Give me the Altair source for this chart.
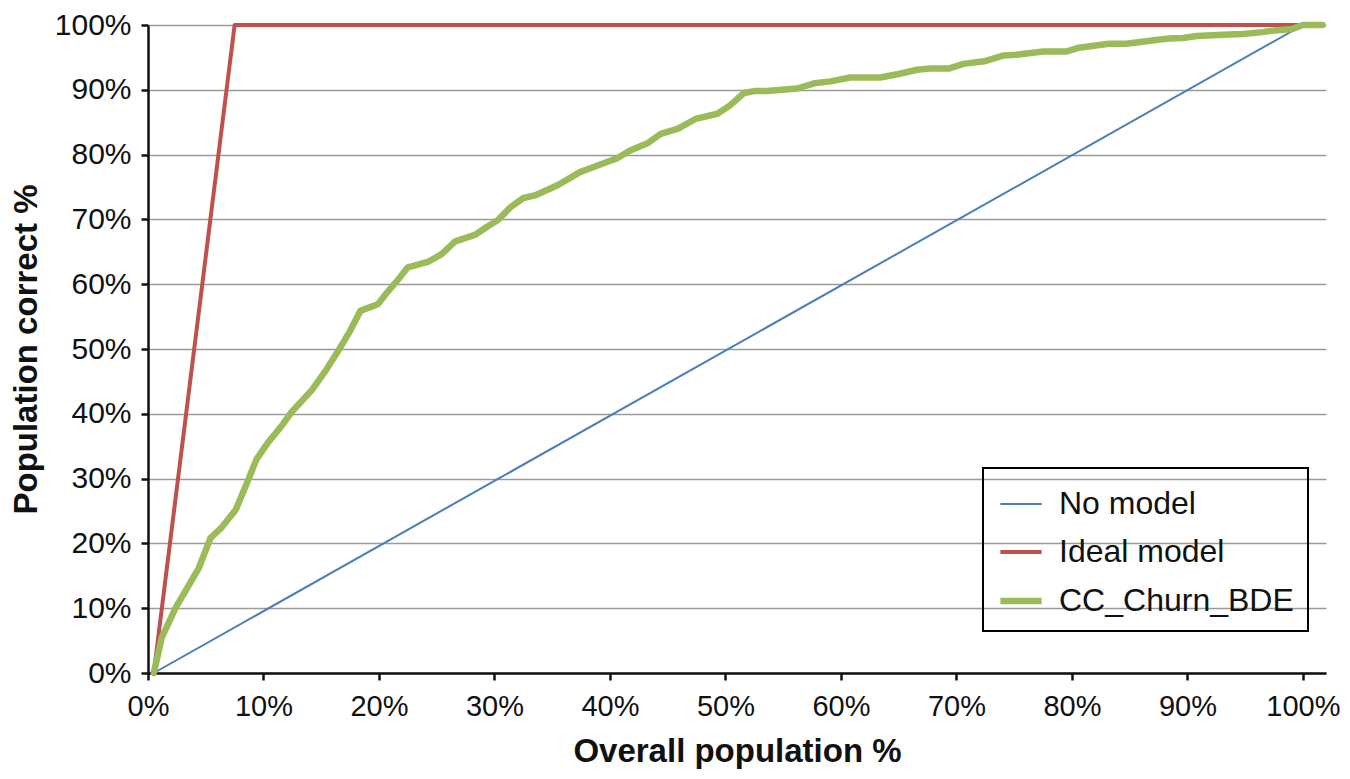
import altair as alt
import pandas as pd

series_names = ["No model", "Ideal model", "CC_Churn_BDE"]
series_colors = ["#4A7EBB", "#C0504D", "#9BBB59"]
series_widths = [2, 4, 6.5]

no_model_x = [0.5, 100]
no_model_y = [0, 100]

ideal_x = [0.5, 7.5, 100]
ideal_y = [0, 100, 100]

churn_x = [0.5, 1.2, 2.4, 4.4, 5.4, 6.3, 7.6, 8.7, 9.4, 10.4,
           11.6, 12.4, 14.2, 15.4, 16.5, 17.5, 18.4, 19.3, 19.9, 20.6,
           21.7, 22.5, 24.3, 25.4, 26.6, 28.3, 29.4, 30.3, 31.4, 32.5,
           33.5, 35.5, 37.4, 38.3, 39.8, 40.7, 41.7, 43.3, 44.4, 45.9,
           47.4, 49.3, 50.4, 51.6, 52.5, 53.6, 56.2, 57.7, 59.1, 60.8,
           63.4, 64.9, 66.6, 67.7, 69.4, 70.6, 72.4, 74.1, 75.2, 77.5,
           79.5, 80.6, 81.9, 83.2, 84.7, 87.3, 88.4, 89.6, 90.8, 93.1,
           94.8, 96.5, 97.7, 99.1, 100, 101.7]
churn_y = [0, 5.5, 10.1, 16.2, 20.8, 22.3, 25.2, 29.9, 33.0, 35.6,
           38.2, 40.2, 43.7, 46.7, 49.8, 52.8, 55.9, 56.5, 56.9, 58.5,
           60.8, 62.6, 63.5, 64.6, 66.6, 67.6, 68.9, 69.9, 71.9, 73.3,
           73.7, 75.3, 77.3, 77.9, 78.9, 79.5, 80.6, 81.8, 83.2, 84.0,
           85.5, 86.3, 87.6, 89.5, 89.8, 89.8, 90.2, 91.0, 91.3, 91.9,
           91.9, 92.4, 93.1, 93.3, 93.3, 94.0, 94.4, 95.3, 95.4, 95.9,
           95.9, 96.5, 96.8, 97.1, 97.1, 97.7, 97.9, 98.0, 98.3, 98.5,
           98.6, 98.9, 99.2, 99.4, 100, 100]

tick_values = [0, 10, 20, 30, 40, 50, 60, 70, 80, 90, 100]

rows = []
for name, xs, ys in [("No model", no_model_x, no_model_y),
                     ("Ideal model", ideal_x, ideal_y),
                     ("CC_Churn_BDE", churn_x, churn_y)]:
    for i, (xv, yv) in enumerate(zip(xs, ys)):
        rows.append({"series": name, "x": xv, "y": yv, "idx": i})
df = pd.DataFrame(rows)

FONT = "Liberation Sans"

legend = alt.Legend(
    title=None, orient="none", legendX=835, legendY=443,
    strokeColor="black", padding=14, symbolType="stroke",
    symbolSize=1700, labelFontSize=32, labelFont=FONT, labelColor="#111111",
    labelOffset=14, rowPadding=9, labelLimit=400,
)

chart = alt.Chart(df).mark_line(strokeJoin="round", strokeCap="round").encode(
    x=alt.X("x:Q", scale=alt.Scale(domain=[0, 102], nice=False, zero=False),
            axis=alt.Axis(values=tick_values, labelExpr="datum.value + '%'",
                          title="Overall population %", grid=False, labelFlush=False)),
    y=alt.Y("y:Q", scale=alt.Scale(domain=[0, 100], nice=False),
            axis=alt.Axis(values=tick_values, labelExpr="datum.value + '%'",
                          title="Population correct %", grid=True, labelFlush=False)),
    color=alt.Color("series:N", scale=alt.Scale(domain=series_names, range=series_colors),
                    legend=legend),
    strokeWidth=alt.StrokeWidth("series:N",
                                scale=alt.Scale(type="ordinal", domain=series_names, range=series_widths),
                                legend=legend),
    detail="series:N",
    order="idx:Q",
).properties(
    width=1178, height=648,
    autosize=alt.AutoSizeParams(type="none"),
    padding={"left": 140, "top": 17, "right": 16, "bottom": 98},
).configure_view(
    stroke=None
).configure_axis(
    labelFont=FONT, labelFontSize=30, labelColor="#111111",
    titleFont=FONT, titleFontSize=33, titleFontWeight="bold", titleColor="#111111",
    domainColor="#111111", domainWidth=2.5, tickColor="#111111", tickWidth=2.5, tickSize=7,
    gridColor="#9a9a9a", gridWidth=1.5,
).configure_axisX(
    labelPadding=12, titlePadding=14, labelFontSize=29,
).configure_axisY(
    labelPadding=10, titlePadding=11,
).configure_legend(
    strokeWidth=2,
)

chart.save("out.html", embed_options={"renderer": "svg", "actions": False})
